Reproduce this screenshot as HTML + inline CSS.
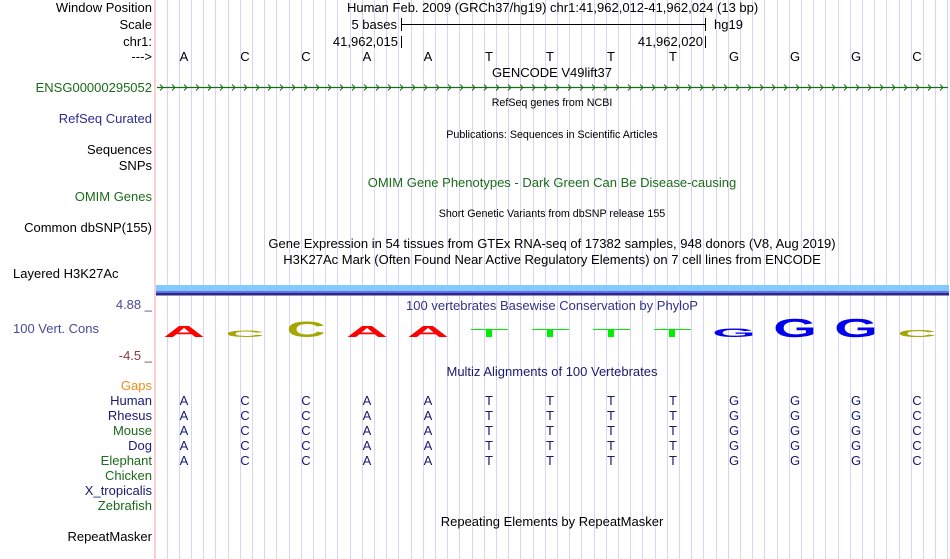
<!DOCTYPE html>
<html><head><meta charset="utf-8"><style>
html,body{margin:0;padding:0;background:#fff;}
svg{display:block;font-family:"Liberation Sans",Arial,sans-serif;}
</style></head><body>
<svg width="950" height="559" viewBox="0 0 950 559" xmlns="http://www.w3.org/2000/svg">
<rect width="950" height="559" fill="#fff"/>
<line x1="155" y1="0" x2="155" y2="559" stroke="#f4a0a0" stroke-width="1"/>
<g stroke="#d6d6f4" stroke-width="1">
<line x1="167.5" y1="0" x2="167.5" y2="559"/><line x1="179.5" y1="0" x2="179.5" y2="559"/><line x1="191.5" y1="0" x2="191.5" y2="559"/><line x1="203.5" y1="0" x2="203.5" y2="559"/><line x1="215.5" y1="0" x2="215.5" y2="559"/><line x1="228.5" y1="0" x2="228.5" y2="559"/><line x1="240.5" y1="0" x2="240.5" y2="559"/><line x1="252.5" y1="0" x2="252.5" y2="559"/><line x1="264.5" y1="0" x2="264.5" y2="559"/><line x1="276.5" y1="0" x2="276.5" y2="559"/><line x1="289.5" y1="0" x2="289.5" y2="559"/><line x1="301.5" y1="0" x2="301.5" y2="559"/><line x1="313.5" y1="0" x2="313.5" y2="559"/><line x1="325.5" y1="0" x2="325.5" y2="559"/><line x1="337.5" y1="0" x2="337.5" y2="559"/><line x1="350.5" y1="0" x2="350.5" y2="559"/><line x1="362.5" y1="0" x2="362.5" y2="559"/><line x1="374.5" y1="0" x2="374.5" y2="559"/><line x1="386.5" y1="0" x2="386.5" y2="559"/><line x1="398.5" y1="0" x2="398.5" y2="559"/><line x1="411.5" y1="0" x2="411.5" y2="559"/><line x1="423.5" y1="0" x2="423.5" y2="559"/><line x1="435.5" y1="0" x2="435.5" y2="559"/><line x1="447.5" y1="0" x2="447.5" y2="559"/><line x1="459.5" y1="0" x2="459.5" y2="559"/><line x1="472.5" y1="0" x2="472.5" y2="559"/><line x1="484.5" y1="0" x2="484.5" y2="559"/><line x1="496.5" y1="0" x2="496.5" y2="559"/><line x1="508.5" y1="0" x2="508.5" y2="559"/><line x1="520.5" y1="0" x2="520.5" y2="559"/><line x1="533.5" y1="0" x2="533.5" y2="559"/><line x1="545.5" y1="0" x2="545.5" y2="559"/><line x1="557.5" y1="0" x2="557.5" y2="559"/><line x1="569.5" y1="0" x2="569.5" y2="559"/><line x1="581.5" y1="0" x2="581.5" y2="559"/><line x1="594.5" y1="0" x2="594.5" y2="559"/><line x1="606.5" y1="0" x2="606.5" y2="559"/><line x1="618.5" y1="0" x2="618.5" y2="559"/><line x1="630.5" y1="0" x2="630.5" y2="559"/><line x1="642.5" y1="0" x2="642.5" y2="559"/><line x1="655.5" y1="0" x2="655.5" y2="559"/><line x1="667.5" y1="0" x2="667.5" y2="559"/><line x1="679.5" y1="0" x2="679.5" y2="559"/><line x1="691.5" y1="0" x2="691.5" y2="559"/><line x1="703.5" y1="0" x2="703.5" y2="559"/><line x1="716.5" y1="0" x2="716.5" y2="559"/><line x1="728.5" y1="0" x2="728.5" y2="559"/><line x1="740.5" y1="0" x2="740.5" y2="559"/><line x1="752.5" y1="0" x2="752.5" y2="559"/><line x1="764.5" y1="0" x2="764.5" y2="559"/><line x1="777.5" y1="0" x2="777.5" y2="559"/><line x1="789.5" y1="0" x2="789.5" y2="559"/><line x1="801.5" y1="0" x2="801.5" y2="559"/><line x1="813.5" y1="0" x2="813.5" y2="559"/><line x1="825.5" y1="0" x2="825.5" y2="559"/><line x1="838.5" y1="0" x2="838.5" y2="559"/><line x1="850.5" y1="0" x2="850.5" y2="559"/><line x1="862.5" y1="0" x2="862.5" y2="559"/><line x1="874.5" y1="0" x2="874.5" y2="559"/><line x1="886.5" y1="0" x2="886.5" y2="559"/><line x1="899.5" y1="0" x2="899.5" y2="559"/><line x1="911.5" y1="0" x2="911.5" y2="559"/><line x1="923.5" y1="0" x2="923.5" y2="559"/><line x1="935.5" y1="0" x2="935.5" y2="559"/><line x1="947.5" y1="0" x2="947.5" y2="559"/>
</g>

<!-- left labels -->
<g font-size="13" text-anchor="end">
<text x="152" y="12" fill="#000">Window Position</text>
<text x="152" y="29" fill="#000">Scale</text>
<text x="152" y="46" fill="#000">chr1:</text>
<text x="152" y="61" fill="#000">---&gt;</text>
<text x="152" y="92" fill="#1a6b1a">ENSG00000295052</text>
<text x="152" y="123" fill="#2c2c90">RefSeq Curated</text>
<text x="152" y="154" fill="#000">Sequences</text>
<text x="152" y="170" fill="#000">SNPs</text>
<text x="152" y="201" fill="#1a6b1a">OMIM Genes</text>
<text x="152" y="232" fill="#000">Common dbSNP(155)</text>
<text x="152" y="309" fill="#4a4a9a">4.88 _</text>
<text x="152" y="360" fill="#8b3a3a">-4.5 _</text>
<text x="152" y="390" fill="#f08c1e">Gaps</text>
<text x="152" y="405" fill="#191970">Human</text>
<text x="152" y="420" fill="#191970">Rhesus</text>
<text x="152" y="435" fill="#1a6b1a">Mouse</text>
<text x="152" y="450" fill="#191970">Dog</text>
<text x="152" y="465" fill="#1a6b1a">Elephant</text>
<text x="152" y="480" fill="#1a6b1a">Chicken</text>
<text x="152" y="495" fill="#191970">X_tropicalis</text>
<text x="152" y="510" fill="#1a6b1a">Zebrafish</text>
<text x="152" y="541" fill="#000">RepeatMasker</text>
</g>
<g font-size="13">
<text x="13" y="278" fill="#000">Layered H3K27Ac</text>
<text x="13" y="333" fill="#4a4a9a">100 Vert. Cons</text>
</g>

<!-- header -->
<g font-size="13" fill="#000">
<text x="347" y="12">Human Feb. 2009 (GRCh37/hg19)   chr1:41,962,012-41,962,024 (13 bp)</text>
<text x="397" y="29" text-anchor="end">5 bases</text>
<text x="714" y="29">hg19</text>
<text x="398" y="46" text-anchor="end">41,962,015</text>
<text x="703" y="46" text-anchor="end">41,962,020</text>
<text x="552" y="77" text-anchor="middle">GENCODE V49lift37</text>
</g>
<g stroke="#000" stroke-width="1">
<line x1="401" y1="24.5" x2="705" y2="24.5"/>
<line x1="401.5" y1="18" x2="401.5" y2="31"/>
<line x1="705.5" y1="18" x2="705.5" y2="31"/>
<line x1="401.5" y1="36" x2="401.5" y2="48"/>
<line x1="705.5" y1="36" x2="705.5" y2="48"/>
</g>
<g font-size="13" fill="#000" text-anchor="middle">
<text x="184" y="61">A</text><text x="245" y="61">C</text><text x="306" y="61">C</text><text x="367" y="61">A</text><text x="428" y="61">A</text><text x="489" y="61">T</text><text x="550" y="61">T</text><text x="611" y="61">T</text><text x="673" y="61">T</text><text x="734" y="61">G</text><text x="795" y="61">G</text><text x="856" y="61">G</text><text x="917" y="61">C</text>
</g>

<!-- gene line -->
<line x1="157" y1="87.5" x2="948" y2="87.5" stroke="#1a6b1a" stroke-width="1.2"/>
<path fill="none" stroke="#1a6b1a" stroke-width="1" d="M160,84.5l3,3l-3,3 M172,84.5l3,3l-3,3 M184,84.5l3,3l-3,3 M196,84.5l3,3l-3,3 M208,84.5l3,3l-3,3 M220,84.5l3,3l-3,3 M232,84.5l3,3l-3,3 M244,84.5l3,3l-3,3 M256,84.5l3,3l-3,3 M268,84.5l3,3l-3,3 M280,84.5l3,3l-3,3 M292,84.5l3,3l-3,3 M304,84.5l3,3l-3,3 M316,84.5l3,3l-3,3 M328,84.5l3,3l-3,3 M340,84.5l3,3l-3,3 M352,84.5l3,3l-3,3 M364,84.5l3,3l-3,3 M376,84.5l3,3l-3,3 M388,84.5l3,3l-3,3 M400,84.5l3,3l-3,3 M412,84.5l3,3l-3,3 M424,84.5l3,3l-3,3 M436,84.5l3,3l-3,3 M448,84.5l3,3l-3,3 M460,84.5l3,3l-3,3 M472,84.5l3,3l-3,3 M484,84.5l3,3l-3,3 M496,84.5l3,3l-3,3 M508,84.5l3,3l-3,3 M520,84.5l3,3l-3,3 M532,84.5l3,3l-3,3 M544,84.5l3,3l-3,3 M556,84.5l3,3l-3,3 M568,84.5l3,3l-3,3 M580,84.5l3,3l-3,3 M592,84.5l3,3l-3,3 M604,84.5l3,3l-3,3 M616,84.5l3,3l-3,3 M628,84.5l3,3l-3,3 M640,84.5l3,3l-3,3 M652,84.5l3,3l-3,3 M664,84.5l3,3l-3,3 M676,84.5l3,3l-3,3 M688,84.5l3,3l-3,3 M700,84.5l3,3l-3,3 M712,84.5l3,3l-3,3 M724,84.5l3,3l-3,3 M736,84.5l3,3l-3,3 M748,84.5l3,3l-3,3 M760,84.5l3,3l-3,3 M772,84.5l3,3l-3,3 M784,84.5l3,3l-3,3 M796,84.5l3,3l-3,3 M808,84.5l3,3l-3,3 M820,84.5l3,3l-3,3 M832,84.5l3,3l-3,3 M844,84.5l3,3l-3,3 M856,84.5l3,3l-3,3 M868,84.5l3,3l-3,3 M880,84.5l3,3l-3,3 M892,84.5l3,3l-3,3 M904,84.5l3,3l-3,3 M916,84.5l3,3l-3,3 M928,84.5l3,3l-3,3 M940,84.5l3,3l-3,3"/>

<!-- center track titles -->
<g text-anchor="middle">
<text x="552" y="106" font-size="10.7" fill="#000">RefSeq genes from NCBI</text>
<text x="552" y="138" font-size="10.7" fill="#000">Publications: Sequences in Scientific Articles</text>
<text x="552" y="187" font-size="13" fill="#1a6b1a">OMIM Gene Phenotypes - Dark Green Can Be Disease-causing</text>
<text x="552" y="217" font-size="10.7" fill="#000">Short Genetic Variants from dbSNP release 155</text>
<text x="552" y="248" font-size="13" fill="#000">Gene Expression in 54 tissues from GTEx RNA-seq of 17382 samples, 948 donors (V8, Aug 2019)</text>
<text x="552" y="264" font-size="13" fill="#000">H3K27Ac Mark (Often Found Near Active Regulatory Elements) on 7 cell lines from ENCODE</text>
<text x="552" y="310" font-size="13" fill="#333388">100 vertebrates Basewise Conservation by PhyloP</text>
<text x="552" y="376" font-size="13" fill="#191970">Multiz Alignments of 100 Vertebrates</text>
<text x="552" y="526" font-size="13" fill="#000">Repeating Elements by RepeatMasker</text>
</g>

<!-- H3K27Ac bars -->
<rect x="156" y="285" width="793" height="6" fill="#80ccff"/>
<rect x="156" y="291" width="793" height="2" fill="#6a6aff"/>
<rect x="156" y="293" width="793" height="2.5" fill="#2a2a80"/>

<!-- conservation logo -->
<g font-weight="bold" font-size="20" text-anchor="middle">
<text transform="translate(184,337) scale(2.9,0.78)" fill="#ff0000">A</text>
<text transform="translate(245,337) scale(2.7,0.45)" fill="#a6a600">C</text>
<text transform="translate(306,337) scale(2.7,1.1)" fill="#a6a600">C</text>
<text transform="translate(367,337) scale(2.9,0.78)" fill="#ff0000">A</text>
<text transform="translate(428,337) scale(2.9,0.78)" fill="#ff0000">A</text>
<text transform="translate(734,337) scale(2.8,0.62)" fill="#0000ee">G</text>
<text transform="translate(795,337) scale(2.8,1.3)" fill="#0000ee">G</text>
<text transform="translate(856,337) scale(2.8,1.3)" fill="#0000ee">G</text>
<text transform="translate(917,337) scale(2.7,0.5)" fill="#a6a600">C</text>
</g>
<g fill="#00ee00">
<rect x="471" y="329" width="37" height="1"/><rect x="486" y="330" width="6" height="7"/>
<rect x="532" y="329" width="37" height="1"/><rect x="547" y="330" width="6" height="7"/>
<rect x="593" y="329" width="37" height="1"/><rect x="608" y="330" width="6" height="7"/>
<rect x="654" y="329" width="37" height="1"/><rect x="669" y="330" width="6" height="7"/>
</g>

<!-- alignment bases -->
<g font-size="13" fill="#191970" text-anchor="middle">
<text x="184" y="405">A</text><text x="245" y="405">C</text><text x="306" y="405">C</text><text x="367" y="405">A</text><text x="428" y="405">A</text><text x="489" y="405">T</text><text x="550" y="405">T</text><text x="611" y="405">T</text><text x="673" y="405">T</text><text x="734" y="405">G</text><text x="795" y="405">G</text><text x="856" y="405">G</text><text x="917" y="405">C</text>
<text x="184" y="420">A</text><text x="245" y="420">C</text><text x="306" y="420">C</text><text x="367" y="420">A</text><text x="428" y="420">A</text><text x="489" y="420">T</text><text x="550" y="420">T</text><text x="611" y="420">T</text><text x="673" y="420">T</text><text x="734" y="420">G</text><text x="795" y="420">G</text><text x="856" y="420">G</text><text x="917" y="420">C</text>
<text x="184" y="435">A</text><text x="245" y="435">C</text><text x="306" y="435">C</text><text x="367" y="435">A</text><text x="428" y="435">A</text><text x="489" y="435">T</text><text x="550" y="435">T</text><text x="611" y="435">T</text><text x="673" y="435">T</text><text x="734" y="435">G</text><text x="795" y="435">G</text><text x="856" y="435">G</text><text x="917" y="435">C</text>
<text x="184" y="450">A</text><text x="245" y="450">C</text><text x="306" y="450">C</text><text x="367" y="450">A</text><text x="428" y="450">A</text><text x="489" y="450">T</text><text x="550" y="450">T</text><text x="611" y="450">T</text><text x="673" y="450">T</text><text x="734" y="450">G</text><text x="795" y="450">G</text><text x="856" y="450">G</text><text x="917" y="450">C</text>
<text x="184" y="465">A</text><text x="245" y="465">C</text><text x="306" y="465">C</text><text x="367" y="465">A</text><text x="428" y="465">A</text><text x="489" y="465">T</text><text x="550" y="465">T</text><text x="611" y="465">T</text><text x="673" y="465">T</text><text x="734" y="465">G</text><text x="795" y="465">G</text><text x="856" y="465">G</text><text x="917" y="465">C</text>
</g>
</svg>
</body></html>
